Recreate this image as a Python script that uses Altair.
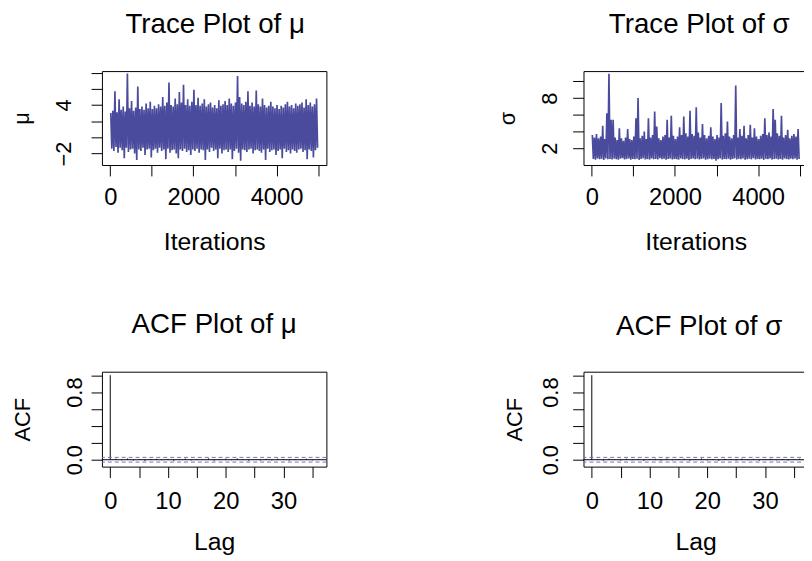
import altair as alt
import pandas as pd

FONT = "Liberation Sans, Arial, Helvetica, sans-serif"
TRACE_COLOR = "#4b4b9d"
CI_COLOR = "#7070c8"

BIN = 50  # iterations summarised by each (high, low) pair

mu_hi = [
    3.0, 3.3, 5.7, 3.1, 4.7, 3.4, 3.8, 3.2, 7.9, 3.6,
    4.5, 3.3, 3.7, 6.3, 3.5, 3.8, 3.4, 4.2, 3.6, 4.4,
    3.5, 3.9, 3.6, 4.1, 3.8, 5.0, 3.9, 4.3, 6.8, 4.0,
    3.8, 4.8, 4.1, 5.6, 4.3, 6.5, 4.0, 4.7, 3.9, 4.4,
    5.9, 4.0, 4.9, 3.9, 4.2, 4.7, 3.8, 4.1, 4.3, 3.7,
    4.0, 3.6, 4.6, 3.9, 4.1, 4.5, 4.0, 4.8, 4.2, 3.9,
    4.3, 7.6, 5.0, 4.2, 4.0, 4.4, 5.7, 3.9, 4.3, 3.8,
    5.8, 4.1, 3.8, 4.8, 4.0, 3.7, 3.9, 4.4, 3.8, 3.6,
    4.0, 3.5, 3.9, 3.7, 4.1, 4.4, 3.8, 4.0, 3.6, 4.2,
    3.9, 4.1, 4.3, 3.7, 4.7, 4.0, 4.3, 3.8, 4.1, 4.8,
]
mu_lo = [
    -1.4, -1.7, -1.2, -1.9, -1.3, -1.6, -2.6, -1.3, -1.8, -1.5,
    -1.4, -2.0, -2.8, -1.5, -1.7, -1.3, -2.2, -1.5, -1.4, -2.5,
    -1.6, -1.4, -1.9, -1.3, -1.7, -1.5, -2.7, -1.4, -1.9, -1.6,
    -1.5, -2.0, -2.6, -1.5, -1.7, -1.4, -1.8, -1.6, -2.2, -1.5,
    -1.7, -1.4, -1.9, -1.5, -1.6, -2.8, -1.5, -1.8, -1.3, -1.7,
    -1.5, -2.6, -1.4, -2.0, -1.6, -1.5, -1.8, -1.5, -2.7, -1.7,
    -1.4, -1.9, -2.9, -1.5, -1.6, -1.8, -1.5, -1.4, -2.0, -1.6,
    -1.5, -1.7, -1.9, -1.5, -2.8, -1.4, -1.8, -1.6, -1.5, -2.2,
    -1.7, -1.5, -2.6, -1.4, -1.8, -1.6, -2.0, -1.5, -1.7, -1.9,
    -1.5, -1.4, -1.8, -1.6, -2.7, -1.5, -1.7, -2.5, -1.6, -1.3,
]
sigma_hi = [
    3.6, 3.3, 3.7, 3.2, 3.4, 4.7, 3.1, 6.2, 10.9, 5.4,
    5.4, 3.3, 3.0, 4.4, 3.2, 2.9, 3.3, 4.3, 3.1, 3.0,
    3.4, 5.6, 8.0, 3.2, 3.5, 4.0, 3.1, 5.6, 3.3, 3.6,
    6.4, 4.6, 3.2, 3.0, 3.4, 3.6, 5.4, 3.3, 5.9, 3.5,
    3.1, 3.4, 4.5, 3.6, 5.8, 3.8, 3.4, 6.5, 3.7, 3.5,
    6.9, 3.9, 3.3, 4.9, 3.6, 3.2, 3.5, 4.5, 3.4, 3.1,
    3.6, 3.3, 7.4, 3.5, 3.8, 5.2, 3.4, 3.2, 3.6, 9.5,
    3.3, 4.3, 3.5, 4.7, 3.2, 3.6, 4.8, 3.3, 4.4, 3.4,
    3.1, 3.5, 3.7, 5.6, 3.6, 3.9, 3.4, 6.7, 5.4, 3.8,
    3.5, 5.9, 3.3, 3.6, 4.2, 3.2, 3.5, 3.7, 3.4, 4.3,
]
sigma_lo = [
    0.72, 0.65, 0.78, 0.69, 0.74, 0.61, 0.80, 0.68, 0.73, 0.66,
    0.77, 0.70, 0.63, 0.75, 0.82, 0.67, 0.71, 0.79, 0.64, 0.73,
    0.69, 0.76, 0.62, 0.74, 0.80, 0.68, 0.71, 0.65, 0.78, 0.70,
    0.73, 0.66, 0.81, 0.69, 0.75, 0.63, 0.72, 0.77, 0.67, 0.74,
    0.70, 0.64, 0.79, 0.71, 0.68, 0.76, 0.62, 0.73, 0.80, 0.69,
    0.75, 0.66, 0.72, 0.78, 0.64, 0.71, 0.77, 0.68, 0.74, 0.52,
    0.70, 0.79, 0.65, 0.73, 0.69, 0.76, 0.63, 0.72, 0.80, 0.67,
    0.74, 0.70, 0.78, 0.64, 0.71, 0.75, 0.68, 0.81, 0.66, 0.73,
    0.69, 0.77, 0.62, 0.74, 0.70, 0.79, 0.65, 0.72, 0.76, 0.68,
    0.73, 0.64, 0.80, 0.71, 0.67, 0.75, 0.69, 0.78, 0.63, 0.72,
]
acf_mu = [
    1.0, 0.012, -0.007, 0.015, -0.010, 0.005, -0.013, 0.009, 0.011, -0.006,
    0.010, -0.012, 0.006, 0.014, -0.008, 0.009, -0.004, 0.016, -0.011, 0.007,
    0.013, -0.006, 0.015, 0.008, -0.012, 0.005, -0.009, 0.011, -0.007, 0.013,
    0.006, -0.010, 0.009, -0.005, 0.012, -0.008, 0.007,
]
acf_sigma = [
    1.0, 0.009, -0.011, 0.013, 0.006, -0.008, 0.012, -0.005, 0.010, -0.013,
    0.007, 0.011, -0.009, 0.014, -0.006, 0.008, 0.012, -0.010, 0.005, 0.015,
    -0.007, 0.009, -0.012, 0.011, 0.006, -0.008, 0.013, -0.005, 0.010, -0.011,
    0.008, 0.012, -0.006, 0.009, -0.010, 0.007, 0.011,
]
ci_limit = 0.0277

iter_ticks = [0, 1000, 2000, 3000, 4000, 5000]
iter_labels = [0, 2000, 4000]
lag_ticks = [0, 5, 10, 15, 20, 25, 30, 35]
lag_labels = [0, 10, 20, 30]
acf_ticks = [0.0, 0.2, 0.4, 0.6, 0.8, 1.0]
acf_labels = [0.0, 0.8]
mu_ticks = [-2, 0, 2, 4, 6, 8]
mu_labels = [-2, 4]
sigma_ticks = [2, 4, 6, 8, 10]
sigma_labels = [2, 8]

W = 227
H_TOP = 95
H_BOT = 96


def trace_df(hi, lo):
    rows = []
    for i, (h, l) in enumerate(zip(hi, lo)):
        rows.append({"iter": i * BIN + 12.5, "value": h})
        rows.append({"iter": i * BIN + 37.5, "value": l})
    return pd.DataFrame(rows)


def show_only(vals):
    cond = " || ".join(f"abs(datum.value - ({v})) < 1e-9" for v in vals)
    return f"({cond}) ? datum.label : ''"


def x_axis(vals, shown, fmt, label_pad, title, title_y):
    return alt.Axis(
        values=vals, format=fmt, labelExpr=show_only(shown), grid=False, domain=False,
        ticks=True, tickSize=11, tickColor="black", tickWidth=1,
        labelFont=FONT, labelFontSize=24, labelColor="black", labelAlign="center",
        labelBaseline="alphabetic", labelPadding=label_pad, labelFlush=False,
        labelOverlap=False, labelBound=False,
        title=title, titleFont=FONT, titleFontSize=25, titleFontWeight="normal",
        titleColor="black", titleBaseline="alphabetic", titleAlign="center",
        titleY=title_y, titleX=W / 2,
    )


def y_axis(vals, shown, fmt, label_pad, title, title_x, height):
    return alt.Axis(
        values=vals, format=fmt, labelExpr=show_only(shown), grid=False, domain=False,
        ticks=True, tickSize=11, tickColor="black", tickWidth=1,
        labelFont=FONT, labelFontSize=22, labelColor="black", labelAngle=270,
        labelAlign="center", labelBaseline="alphabetic", labelPadding=label_pad,
        labelFlush=False, labelOverlap=False, labelBound=False,
        title=title, titleFont=FONT, titleFontSize=22, titleFontWeight="normal",
        titleColor="black", titleAngle=270, titleAlign="center",
        titleBaseline="alphabetic", titleX=title_x, titleY=height / 2,
    )


def title_params(text, offset, dx, dy):
    return alt.TitleParams(
        text=text, font=FONT, fontSize=28, fontWeight="normal", color="black",
        anchor="middle", baseline="alphabetic", offset=offset, dx=dx, dy=dy,
    )


def trace_panel(hi, lo, ydomain, yticks, ylabels, ylabel_pad, ytitle, ytitle_x, title, dx, dy):
    df = trace_df(hi, lo)
    return alt.Chart(df).mark_line(color=TRACE_COLOR, strokeWidth=1.7).encode(
        x=alt.X("iter:Q", scale=alt.Scale(domain=[-200, 5200], nice=False, zero=False),
                axis=x_axis(iter_ticks, iter_labels, "d", 29, "Iterations", 85)),
        y=alt.Y("value:Q", scale=alt.Scale(domain=ydomain, nice=False, zero=False),
                axis=y_axis(yticks, ylabels, "d", ylabel_pad, ytitle, ytitle_x, H_TOP)),
    ).properties(width=W, height=H_TOP, title=title_params(title, 9.9, dx, dy))


def acf_panel(acf, ylabel_pad, ytitle_x, title, dx, dy):
    df = pd.DataFrame({"lag": list(range(len(acf))), "acf": acf})
    xs = alt.Scale(domain=[-1.44, 37.44], nice=False, zero=False)
    ys = alt.Scale(domain=[-0.0816, 1.0416], nice=False, zero=False)
    xax = x_axis(lag_ticks, lag_labels, "d", 31, "Lag", 84)
    yax = y_axis(acf_ticks, acf_labels, ".1f", ylabel_pad, "ACF", ytitle_x, H_BOT)
    bars = alt.Chart(df).mark_rule(color="black", strokeWidth=1).encode(
        x=alt.X("lag:Q", scale=xs, axis=xax),
        y=alt.Y("acf:Q", scale=ys, axis=yax),
        y2=alt.datum(0),
    )
    zero = alt.Chart(pd.DataFrame({"acf": [0.0]})).mark_rule(color="black", strokeWidth=1).encode(
        y=alt.Y("acf:Q", scale=ys, axis=yax))
    ci = alt.Chart(pd.DataFrame({"acf": [ci_limit, -ci_limit]})).mark_rule(
        color=CI_COLOR, strokeWidth=1, strokeDash=[4, 3]).encode(
        y=alt.Y("acf:Q", scale=ys, axis=yax))
    return alt.layer(bars, ci, zero).properties(
        width=W, height=H_BOT, title=title_params(title, 11.6, dx, dy))


tl = trace_panel(mu_hi, mu_lo, [-3.43, 8.2], mu_ticks, mu_labels, 21, "μ", -74, "Trace Plot of μ", 1, 0)
tr = trace_panel(sigma_hi, sigma_lo, [0.0, 11.23], sigma_ticks, sigma_labels, 16, "σ", -70, "Trace Plot of σ", 3.5, 0)
bl = acf_panel(acf_mu, 10, -73, "ACF Plot of μ", 0, 0)
br = acf_panel(acf_sigma, 15.5, -63, "ACF Plot of σ", 3.5, 2)

chart = alt.concat(
    tl, tr, bl, br, columns=2, spacing={"row": 209, "column": 260}, bounds="flush"
).properties(
    padding={"left": 2, "top": -1.3, "right": -5, "bottom": 0}
).configure(
    background="white"
).configure_view(
    stroke="black", strokeWidth=1
)

chart.save("out.html", embed_options={"renderer": "svg", "actions": False})
